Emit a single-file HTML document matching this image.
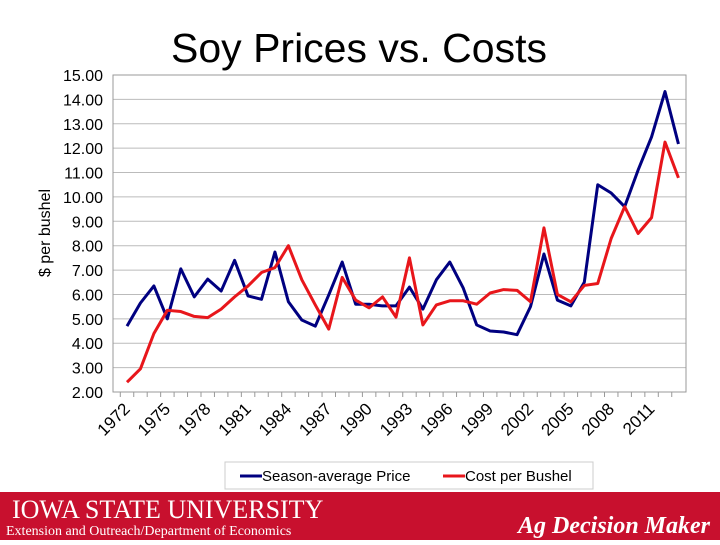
<!DOCTYPE html>
<html><head><meta charset="utf-8"><style>
body{margin:0;width:720px;height:540px;overflow:hidden;background:#fff;font-family:"Liberation Sans",sans-serif}
</style></head><body>
<svg width="720" height="540" xmlns="http://www.w3.org/2000/svg">
<text x="359" y="62" text-anchor="middle" font-size="41" font-family="Liberation Sans">Soy Prices vs. Costs</text>
<g id="grid"></g>
<rect x="113" y="75" width="573" height="317" fill="none" stroke="#999"/>
<text transform="translate(50,233) rotate(-90)" text-anchor="middle" font-size="16">$ per bushel</text>
<g id="series"></g>
<g>
<rect x="225" y="462" width="368" height="27" fill="#fff" stroke="#ccc"/>
<line x1="240" y1="476" x2="262" y2="476" stroke="#000080" stroke-width="3"/>
<text x="262" y="481" font-size="15">Season-average Price</text>
<line x1="443" y1="476" x2="465" y2="476" stroke="#e8161b" stroke-width="3"/>
<text x="465" y="481" font-size="15">Cost per Bushel</text>
</g>
<rect x="0" y="492" width="720" height="48" fill="#c8102e"/>
<text x="12" y="518" fill="#fff" font-family="Liberation Serif" font-size="26">IOWA STATE UNIVERSITY</text>
<text x="6" y="535" fill="#fff" font-family="Liberation Serif" font-size="14">Extension and Outreach/Department of Economics</text>
<text x="710" y="533" text-anchor="end" fill="#fff" font-family="Liberation Serif" font-style="italic" font-weight="bold" font-size="24">Ag Decision Maker</text>
</svg>
<script>
const years=[];for(let y=1972;y<=2013;y++)years.push(y);
const price=[4.7,5.65,6.35,5.0,7.05,5.9,6.63,6.14,7.4,5.94,5.8,7.74,5.7,4.95,4.7,5.98,7.33,5.6,5.6,5.53,5.53,6.3,5.4,6.6,7.33,6.26,4.75,4.5,4.46,4.35,5.5,7.66,5.77,5.53,6.5,10.5,10.16,9.6,11.1,12.46,14.32,12.17];
const cost=[2.4,2.95,4.4,5.35,5.3,5.1,5.05,5.4,5.9,6.35,6.9,7.1,8.0,6.6,5.57,4.58,6.7,5.77,5.45,5.9,5.07,7.5,4.75,5.57,5.74,5.74,5.6,6.06,6.2,6.17,5.7,8.73,6.0,5.7,6.37,6.45,8.3,9.6,8.5,9.15,12.25,10.78];
const yTicks=[2,3,4,5,6,7,8,9,10,11,12,13,14,15];
const NS="http://www.w3.org/2000/svg";
const X=i=>127+i*13.45, Y=v=>392-(v-2)*317/13;
const grid=document.getElementById('grid'),ser=document.getElementById('series');
function mk(t,a,p){const e=document.createElementNS(NS,t);for(const k in a)e.setAttribute(k,a[k]);p.appendChild(e);return e;}
yTicks.forEach(v=>{
 if(v>2&&v<15){const l=mk('line',{x1:113,x2:686,y1:Y(v),y2:Y(v),stroke:'#bbb'},grid);
 
 }
 const t=mk('text',{x:103,y:Y(v)+6,'text-anchor':'end','font-size':16},grid);t.textContent=v.toFixed(2);
 
 
});
years.forEach((yr,i)=>{
 const tk=mk('line',{x1:X(i)-6.7,x2:X(i)-6.7,y1:392,y2:397,stroke:'#999'},grid);
 
 
 if((yr-1972)%3===0){const t=mk('text',{transform:`translate(${X(i)+4},${410}) rotate(-45)`,'text-anchor':'end','font-size':17},grid);t.textContent=yr;
 
 }
});
function line(d,c,n){const p=mk('polyline',{points:d.map((v,i)=>X(i)+','+Y(v)).join(' '),fill:'none',stroke:c,'stroke-width':3,'stroke-linejoin':'round'},ser);
 
 }
line(price,'#000080','price-line');
line(cost,'#e8161b','cost-line');
</script>
</body></html>
